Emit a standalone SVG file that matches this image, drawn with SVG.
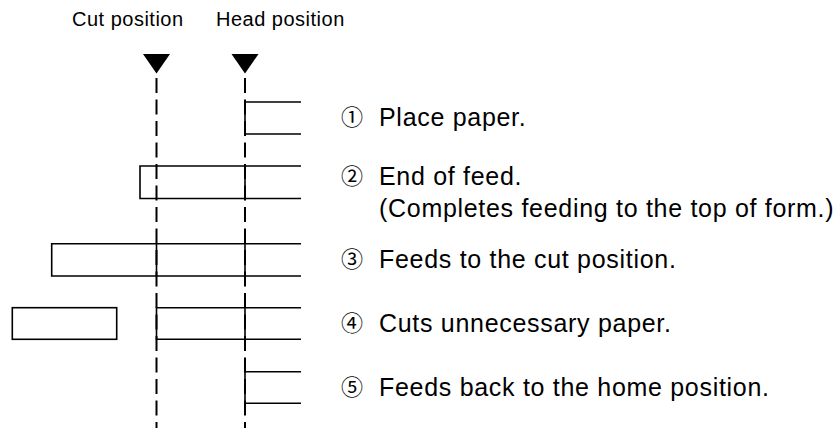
<svg xmlns="http://www.w3.org/2000/svg" width="839" height="428" viewBox="0 0 839 428">
<style>
.hdr{font-family:"Liberation Sans",Arial,sans-serif;font-size:20px;letter-spacing:0.5px;fill:#000}
.txt{font-family:"Liberation Sans",Arial,sans-serif;font-size:25px;letter-spacing:0.7px;fill:#000}
.num{font-family:"Noto Sans CJK JP","DejaVu Sans",sans-serif;font-size:22px;fill:#000;text-anchor:middle}
.paper{fill:none;stroke:#000;stroke-width:1.6}
.guide{fill:none;stroke:#000;stroke-width:2;stroke-dasharray:15 6.5}
.tri{fill:#000}
</style>
<rect width="839" height="428" fill="#fff"/>
<g id="cut-position">
<text class="hdr" x="72" y="26">Cut position</text>
<polygon class="tri" points="143,54 170,54 156.5,73.5"/>
</g>
<g id="head-position">
<text class="hdr" x="216" y="26">Head position</text>
<polygon class="tri" points="231.5,54 258.5,54 245,73.5"/>
</g>
<g id="connectors">
<line class="guide" x1="156.5" y1="78" x2="156.5" y2="428"/>
<line class="guide" x1="245" y1="78" x2="245" y2="428"/>
</g>
<g id="step1">
<path class="paper" d="M301,102 H245 V134 H301"/>
<text class="num" x="352" y="125">①</text>
<text class="txt" x="379" y="126">Place paper.</text>
</g>
<g id="step2">
<path class="paper" d="M301,166 H140 V198.5 H301 M245,166 V198.5"/>
<text class="num" x="352" y="184">②</text>
<text class="txt" x="379" y="185">End of feed.</text>
<text class="txt" x="379" y="217">(Completes feeding to the top of form.)</text>
</g>
<g id="step3">
<path class="paper" d="M301,243.7 H51.7 V276 H301 M156.5,243.7 V276 M245,243.7 V276"/>
<text class="num" x="352" y="267">③</text>
<text class="txt" x="379" y="268">Feeds to the cut position.</text>
</g>
<g id="step4">
<rect class="paper" x="12.3" y="307.7" width="104.4" height="31.6"/>
<path class="paper" d="M301,307.7 H156.5 V339.3 H301 M245,307.7 V339.3"/>
<text class="num" x="352" y="331">④</text>
<text class="txt" x="379" y="332">Cuts unnecessary paper.</text>
</g>
<g id="step5">
<path class="paper" d="M301,371.7 H245 V403.3 H301"/>
<text class="num" x="352" y="395">⑤</text>
<text class="txt" x="379" y="396">Feeds back to the home position.</text>
</g>
</svg>
